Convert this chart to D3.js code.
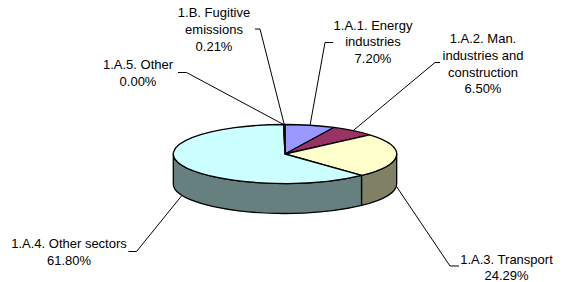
<!DOCTYPE html>
<html>
<head>
<meta charset="utf-8">
<script src="https://cdn.jsdelivr.net/npm/d3@7"></script>
<style>
  body { margin: 0; background: #fff; }
  text { font-family: "Liberation Sans", Arial, sans-serif; font-size: 13px; fill: #000; }
</style>
</head>
<body>
<svg id="chart"></svg>
<script>
// Chart data
const categories = [
  "1.A.1. Energy industries",
  "1.A.2. Man. industries and construction",
  "1.A.3. Transport",
  "1.A.4. Other sectors",
  "1.A.5. Other",
  "1.B. Fugitive emissions"
];
const shares = [7.20, 6.50, 24.29, 61.80, 0.00, 0.21];
const labelLines = [
  ["1.A.1. Energy", "industries"],
  ["1.A.2. Man.", "industries and", "construction"],
  ["1.A.3. Transport"],
  ["1.A.4. Other sectors"],
  ["1.A.5. Other"],
  ["1.B. Fugitive", "emissions"]
];
const topColors = ["#9999FF", "#993366", "#FFFFCC", "#CCFFFF", "#FFFFFF", "#FFFFFF"];
const sideColors = ["#4d4d80", "#4d1a33", "#808066", "#668080", "#808080", "#808080"];

// Label placement (x = text centre, y = first line centre, tip/elbow = leader bends)
const labelPos = [
  { x: 373, y: 25, tip: [333, 42.5], elbow: [325, 42.5] },
  { x: 483, y: 38.5, tip: [440, 62.5], elbow: [435, 62.5] },
  { x: 506.5, y: 259, tip: [459, 266], elbow: [450, 266] },
  { x: 69, y: 243.5, tip: [128.5, 251.5], elbow: [136.5, 251.5] },
  { x: 138, y: 64.5, tip: [178, 72.5], elbow: [186.5, 72.5] },
  { x: 214, y: 12.5, tip: [255, 29], elbow: [260, 29] }
];

const W = 563, H = 282;
const cx = 285, cy = 154, rx = 111.7, ry = 29.5, depth = 30;
const lineH = 16.7;

const svg = d3.select("#chart").attr("width", W).attr("height", H);

const data = categories.map((c, i) => ({ name: c, value: shares[i], i }));
const arcs = d3.pie().sort(null).value(d => d.value)(data);

const px = a => cx + rx * Math.sin(a);
const py = a => cy - ry * Math.cos(a);

// Side walls (only the front half is visible)
const wallG = svg.append("g");
arcs.forEach(a => {
  const s = Math.max(a.startAngle, Math.PI / 2);
  const e = Math.min(a.endAngle, 3 * Math.PI / 2);
  if (e - s <= 0) return;
  const p = `M${px(s)},${py(s)}` +
    `A${rx},${ry} 0 0 1 ${px(e)},${py(e)}` +
    `L${px(e)},${py(e) + depth}` +
    `A${rx},${ry} 0 0 0 ${px(s)},${py(s) + depth}Z`;
  wallG.append("path")
    .attr("d", p)
    .attr("fill", sideColors[a.data.i])
    .attr("stroke", "#000")
    .attr("stroke-width", 1.3)
    .attr("stroke-linejoin", "round");
});

// Top faces
const topG = svg.append("g");
arcs.forEach(a => {
  if (a.endAngle - a.startAngle <= 0) return;
  const large = a.endAngle - a.startAngle > Math.PI ? 1 : 0;
  const p = `M${cx},${cy}L${px(a.startAngle)},${py(a.startAngle)}` +
    `A${rx},${ry} 0 ${large} 1 ${px(a.endAngle)},${py(a.endAngle)}Z`;
  topG.append("path")
    .attr("d", p)
    .attr("fill", topColors[a.data.i])
    .attr("stroke", "#000")
    .attr("stroke-width", 1.3)
    .attr("stroke-linejoin", "round");
});

// Leader lines and labels
const fmt = d3.format(".2f");
const labelG = svg.append("g");
arcs.forEach(a => {
  const i = a.data.i;
  const mid = (a.startAngle + a.endAngle) / 2;
  const front = Math.cos(mid) < 0;
  const ax = px(mid), ay = py(mid) + (front ? depth + 1 : 0);
  const lp = labelPos[i];
  labelG.append("path")
    .attr("d", `M${lp.tip[0]},${lp.tip[1]}L${lp.elbow[0]},${lp.elbow[1]}L${ax},${ay}`)
    .attr("fill", "none")
    .attr("stroke", "#000")
    .attr("stroke-width", 1);

  const lines = labelLines[i].concat([fmt(a.data.value) + "%"]);
  const t = labelG.append("text").attr("text-anchor", "middle");
  lines.forEach((l, k) => {
    t.append("tspan")
      .attr("x", lp.x)
      .attr("y", lp.y + 4.7 + k * lineH)
      .text(l);
  });
});
</script>
</body>
</html>
